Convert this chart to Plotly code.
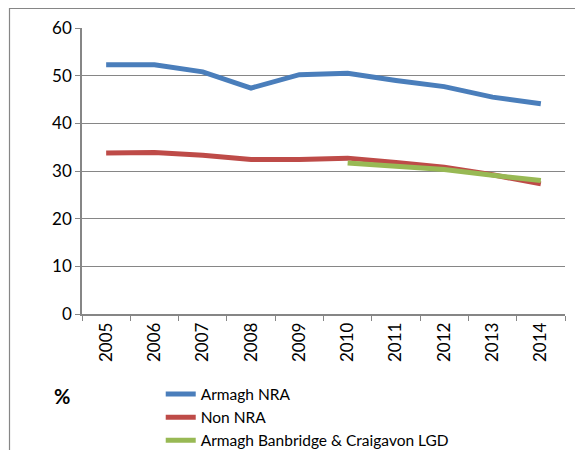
import plotly.graph_objects as go

years = ["2005", "2006", "2007", "2008", "2009", "2010", "2011", "2012", "2013", "2014"]
armagh_nra = [52.3, 52.3, 50.8, 47.4, 50.2, 50.5, 49.0, 47.7, 45.5, 44.1]
non_nra = [33.8, 33.9, 33.3, 32.4, 32.4, 32.7, 31.8, 30.8, 29.2, 27.3]
lgd_years = ["2010", "2011", "2012", "2013", "2014"]
lgd = [31.7, 31.0, 30.3, 29.1, 28.0]

FONT = "Lato"
GRAY = "#868686"

fig = go.Figure()
fig.add_trace(go.Scatter(x=years, y=armagh_nra, mode="lines", name="Armagh NRA",
                         line=dict(color="#4A7EBB", width=5)))
fig.add_trace(go.Scatter(x=years, y=non_nra, mode="lines", name="Non NRA",
                         line=dict(color="#BE4B48", width=5)))
fig.add_trace(go.Scatter(x=lgd_years, y=lgd, mode="lines", name="Armagh Banbridge & Craigavon LGD",
                         line=dict(color="#98B954", width=5)))

fig.update_layout(
    width=575, height=442,
    margin=dict(l=74, r=18, t=20, b=136, autoexpand=False),
    paper_bgcolor="white", plot_bgcolor="white",
    font=dict(family=FONT, size=16, color="black"),
    showlegend=True,
    legend=dict(x=0.163, y=-0.222, xanchor="left", yanchor="top",
                font=dict(family=FONT, size=15.5, color="black"),
                bgcolor="rgba(0,0,0,0)", tracegroupgap=0, itemwidth=30),
    xaxis=dict(type="category", categoryorder="array", categoryarray=years,
               tickson="boundaries", ticks="outside", ticklen=5, tickcolor=GRAY,
               showline=True, linecolor=GRAY, linewidth=1.5, showgrid=False,
               tickangle=-90, tickfont=dict(family=FONT, size=17),
               range=[-0.5, 9.5], automargin=False),
    yaxis=dict(range=[0, 60], dtick=10, ticks="outside", ticklen=5, tickcolor=GRAY,
               showline=True, linecolor=GRAY, linewidth=1.5,
               showgrid=True, gridcolor=GRAY, gridwidth=1.2, zeroline=False,
               tickfont=dict(family=FONT, size=17), automargin=False),
)

fig.add_annotation(text="<b>%</b>", xref="paper", yref="paper", x=-0.062, y=-0.335,
                   showarrow=False, font=dict(family=FONT, size=20, color="black"))

fig.add_shape(type="rect", xref="paper", yref="paper",
              x0=-72.5 / 483, x1=1.2, y0=-0.8, y1=1 + 19.5 / 286,
              line=dict(color=GRAY, width=1.2), fillcolor="rgba(0,0,0,0)", layer="below")

fig.write_html("out.html")
